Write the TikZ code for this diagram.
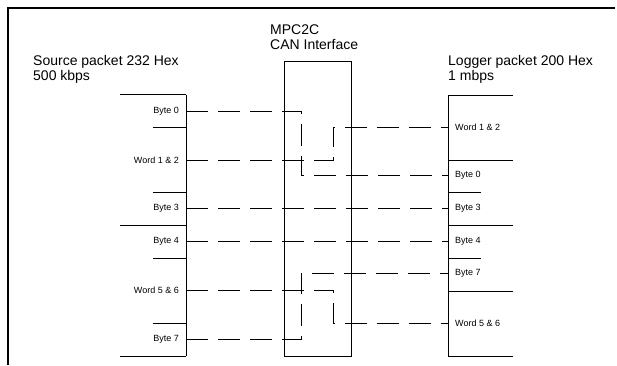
\documentclass[tikz,border=0pt]{standalone}
\usepackage{fontspec}
\setmainfont{Liberation Sans}
\usetikzlibrary{positioning}

\begin{document}
\begin{tikzpicture}[x=1pt, y=-1pt,
  box/.style={line width=0.8pt},
  link/.style={line width=0.8pt, dash pattern=on 22pt off 10pt},
  head/.style={anchor=north west, inner sep=0pt, align=left,
    font=\fontsize{14}{15}\selectfont},
  lbl/.style={inner sep=0pt, font=\fontsize{9}{10}\selectfont}]
  \useasboundingbox (0,0) rectangle (617,365);

  % Frame (only top and left edges are visible)
  \draw[line width=2pt] (8,365) -- (8,8) -- (615,8);

  % Titles
  \node[head] (srctitle) at (33,55) {Source packet 232 Hex\\500 kbps};
  \node[head] (mpctitle) at (270,25) {MPC2C\\CAN Interface};
  \node[head] (logtitle) at (448,55) {Logger packet 200 Hex\\1 mbps};

  % Source column
  \draw[box] (186,94.5) -- (186,356);
  \foreach \y in {94.5,225.7,356}{
    \draw[box] (120,\y) -- (186,\y);
  }
  \foreach \y in {127,192.7,258,323.7}{
    \draw[box] (153,\y) -- (186,\y);
  }
  \node[lbl, anchor=east] (src0)  at (179,111) {Byte 0};
  \node[lbl, anchor=east] (src12) at (179,160) {Word 1 \& 2};
  \node[lbl, anchor=east] (src3)  at (179,208) {Byte 3};
  \node[lbl, anchor=east] (src4)  at (179,241) {Byte 4};
  \node[lbl, anchor=east] (src56) at (179,290) {Word 5 \& 6};
  \node[lbl, anchor=east] (src7)  at (179,339) {Byte 7};

  % MPC2C box
  \draw[box] (284,61) rectangle (351,356);

  % Logger column
  \draw[box] (448,95) -- (448,356);
  \foreach \y in {95,160,225.7,291,356}{
    \draw[box] (448,\y) -- (513,\y);
  }
  \foreach \y in {192.7,258}{
    \draw[box] (448,\y) -- (481,\y);
  }
  \node[lbl, anchor=west] (log12) at (455,127) {Word 1 \& 2};
  \node[lbl, anchor=west] (log0)  at (455,175) {Byte 0};
  \node[lbl, anchor=west] (log3)  at (455,208) {Byte 3};
  \node[lbl, anchor=west] (log4)  at (455,241) {Byte 4};
  \node[lbl, anchor=west] (log7)  at (455,273) {Byte 7};
  \node[lbl, anchor=west] (log56) at (455,323) {Word 5 \& 6};

  % Connector ends on the columns
  \coordinate (s0)  at (186,111);
  \coordinate (s12) at (186,160);
  \coordinate (s3)  at (186,208);
  \coordinate (s4)  at (186,241);
  \coordinate (s56) at (186,290);
  \coordinate (s7)  at (186,339);
  \coordinate (l12) at (448,127);
  \coordinate (l0)  at (448,175);
  \coordinate (l3)  at (448,208);
  \coordinate (l4)  at (448,241);
  \coordinate (l7)  at (448,273);
  \coordinate (l56) at (448,323);

  % Remapping through the interface
  \draw[link] (s0)  -- ++(115,0) |- (l0);
  \draw[link] (s12) -- ++(147,0) |- (l12);
  \draw[link] (s3)  -- (l3);
  \draw[link] (s4)  -- (l4);
  \draw[link] (s56) -- ++(147,0) |- (l56);
  \draw[link] (s7)  -- ++(115,0) |- (l7);
\end{tikzpicture}
\end{document}
